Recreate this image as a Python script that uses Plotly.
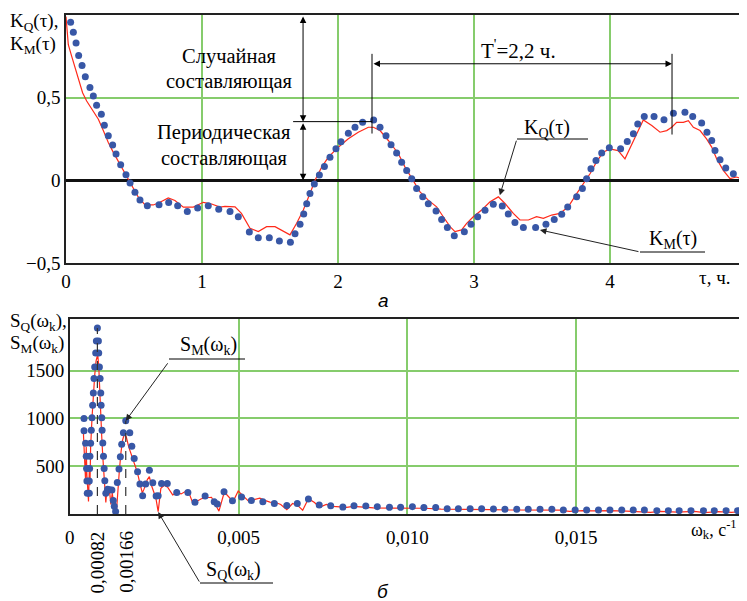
import plotly.graph_objects as go

# ---------------- data: top chart (correlation functions) ----------------
tau_m = [0.034, 0.054, 0.074, 0.093, 0.118, 0.142, 0.176, 0.201, 0.225, 0.260,
         0.282, 0.311, 0.343, 0.368, 0.402, 0.441, 0.471, 0.507, 0.544, 0.598,
         0.684, 0.755, 0.821, 0.892, 0.968, 1.046, 1.123, 1.206, 1.267, 1.348,
         1.414, 1.495, 1.569, 1.650, 1.684, 1.721, 1.748, 1.770, 1.794, 1.826,
         1.863, 1.900, 1.941, 1.985, 2.022, 2.076, 2.125, 2.181, 2.262, 2.309,
         2.353, 2.390, 2.431, 2.468, 2.505, 2.542, 2.578, 2.623, 2.664, 2.721,
         2.762, 2.804, 2.855, 2.929, 2.978, 3.027, 3.081, 3.142, 3.208, 3.252,
         3.301, 3.363, 3.453, 3.529, 3.590, 3.645, 3.689, 3.755, 3.797, 3.828,
         3.860, 3.897, 3.939, 3.995, 4.078, 4.127, 4.172, 4.204, 4.252, 4.324,
         4.397, 4.466, 4.551, 4.608, 4.674, 4.713, 4.748, 4.772, 4.809, 4.851,
         4.907, 4.980]
k_m = [0.956, 0.896, 0.831, 0.755, 0.695, 0.627, 0.562, 0.510, 0.454, 0.400,
       0.333, 0.269, 0.213, 0.159, 0.094, 0.034, -0.016, -0.072, -0.119, -0.153,
       -0.147, -0.134, -0.153, -0.189, -0.167, -0.153, -0.175, -0.189, -0.221, -0.313,
       -0.347, -0.347, -0.367, -0.375, -0.323, -0.265, -0.203, -0.141, -0.080, -0.022,
       0.032, 0.084, 0.140, 0.191, 0.233, 0.285, 0.321, 0.351, 0.365, 0.321,
       0.269, 0.215, 0.165, 0.110, 0.060, 0.010, -0.050, -0.100, -0.141, -0.185,
       -0.237, -0.285, -0.335, -0.311, -0.265, -0.221, -0.181, -0.145, -0.155, -0.203,
       -0.255, -0.285, -0.285, -0.265, -0.237, -0.205, -0.161, -0.100, -0.050, 0.010,
       0.070, 0.120, 0.165, 0.197, 0.191, 0.235, 0.281, 0.341, 0.386, 0.386,
       0.367, 0.406, 0.412, 0.386, 0.347, 0.291, 0.241, 0.181, 0.124, 0.074,
       0.040, 0.024]

tau_q = [0.000, 0.017, 0.042, 0.066, 0.090, 0.122, 0.152, 0.201, 0.238, 0.275,
         0.311, 0.348, 0.397, 0.446, 0.483, 0.532, 0.581, 0.642, 0.691, 0.752,
         0.801, 0.863, 0.936, 1.010, 1.071, 1.132, 1.169, 1.243, 1.290, 1.353,
         1.414, 1.475, 1.537, 1.598, 1.647, 1.696, 1.745, 1.794, 1.831, 1.880,
         1.929, 2.002, 2.076, 2.149, 2.223, 2.260, 2.309, 2.370, 2.444, 2.493,
         2.542, 2.603, 2.664, 2.725, 2.774, 2.824, 2.860, 2.909, 2.946, 2.995,
         3.056, 3.118, 3.179, 3.228, 3.289, 3.338, 3.400, 3.460, 3.510, 3.571,
         3.632, 3.693, 3.755, 3.804, 3.853, 3.900, 3.950, 3.998, 4.060, 4.110,
         4.159, 4.196, 4.245, 4.307, 4.368, 4.417, 4.454, 4.490, 4.539, 4.576,
         4.613, 4.662, 4.710, 4.748, 4.784, 4.833, 4.882, 4.930, 4.968, 5.000]
k_q = [0.99, 0.82, 0.75, 0.68, 0.61, 0.53, 0.48, 0.42, 0.37, 0.30,
       0.229, 0.169, 0.098, 0.028, -0.032, -0.102, -0.149, -0.149, -0.133, -0.107,
       -0.122, -0.162, -0.162, -0.133, -0.143, -0.162, -0.157, -0.160, -0.200, -0.290,
       -0.310, -0.280, -0.280, -0.310, -0.330, -0.260, -0.180, -0.080, 0.000, 0.080,
       0.140, 0.200, 0.251, 0.291, 0.321, 0.321, 0.301, 0.241, 0.161, 0.080,
       0.010, -0.070, -0.120, -0.160, -0.220, -0.280, -0.310, -0.300, -0.260, -0.220,
       -0.180, -0.130, -0.100, -0.140, -0.200, -0.240, -0.240, -0.220, -0.230, -0.210,
       -0.200, -0.160, -0.080, -0.020, 0.040, 0.110, 0.170, 0.190, 0.180, 0.130,
       0.210, 0.280, 0.365, 0.331, 0.291, 0.301, 0.321, 0.351, 0.351, 0.361,
       0.321, 0.301, 0.251, 0.201, 0.131, 0.060, 0.010, 0.020, 0.010, 0.010]

top_xticks = [0, 1, 2, 3, 4]
top_xtext = ["0", "1", "2", "3", "4"]
top_yticks = [-0.5, 0, 0.5]
top_ytext = ["\u22120,5", "0", "0,5"]

# annotation values (top)
split_level = 0.355          # periodic / random boundary
split_tau = 1.743
period_start = 2.25
period_end = 4.456

# ---------------- data: bottom chart (spectral densities) ----------------
w_m = [0.000424, 0.000424, 0.000470, 0.000490, 0.000500, 0.000510, 0.000520,
       0.000580, 0.000580, 0.000590, 0.000600, 0.000620, 0.000640, 0.000660, 0.000680,
       0.000700, 0.000720, 0.000740, 0.000770, 0.000790, 0.000820,
       0.000850, 0.000860, 0.000880, 0.000900, 0.000920, 0.000930, 0.000950, 0.000960,
       0.000980, 0.001000, 0.001020, 0.001040, 0.001070,
       0.001120, 0.001180, 0.001250, 0.001290, 0.001320, 0.001360,
       0.00141, 0.00146, 0.00150, 0.00154, 0.00159, 0.00166, 0.00178, 0.00184, 0.00191,
       0.00201, 0.00208, 0.00216, 0.00225, 0.00236, 0.00246, 0.00256, 0.00262, 0.00272,
       0.00289, 0.00317, 0.00350, 0.00371, 0.00401, 0.00428, 0.00437, 0.00457, 0.00482,
       0.00509, 0.00538, 0.00572, 0.00606, 0.00643, 0.00674, 0.00707, 0.00739, 0.00773,
       0.00809, 0.00842, 0.00877, 0.00911, 0.00947, 0.00980, 0.01015, 0.01049, 0.01084,
       0.01118, 0.01151, 0.01186, 0.01220, 0.01255, 0.01289, 0.01324, 0.01358, 0.01393,
       0.01428, 0.01462, 0.01497, 0.01531, 0.01566, 0.01600, 0.01635, 0.01669, 0.01702,
       0.01739, 0.01773, 0.01805, 0.01840, 0.01877, 0.01909, 0.01944, 0.01978]
s_m = [1000, 870, 740, 605, 477, 344, 216,
       216, 344, 477, 605, 740, 877, 1006, 1138,
       1266, 1417, 1538, 1684, 1809, 1945,
       1809, 1684, 1538, 1417, 1266, 1138, 1006, 877,
       744, 605, 477, 348, 216,
       260, 255, 250, 140, 80, 25,
       330, 470, 600, 730, 850, 975, 849, 710, 581,
       442, 313, 191, 313, 459, 327, 188, 190, 320,
       320, 226, 226, 122, 188, 129, 104, 233, 139,
       178, 142, 129, 111, 90, 111, 158, 94, 86,
       72, 86, 84, 77, 70, 70, 77, 67, 67,
       56, 56, 56, 55, 52, 49, 49, 49, 49,
       49, 42, 42, 42, 42, 42, 42, 42, 42,
       35, 35, 35, 35, 35, 35, 35, 35]

w_q = [0.000404, 0.000440, 0.000470, 0.000490, 0.000510, 0.000557, 0.000580, 0.000600,
       0.000620, 0.000660, 0.000700, 0.000740, 0.000780, 0.000829, 0.000860, 0.000890,
       0.000920, 0.000950, 0.000980, 0.001010, 0.001040, 0.001070, 0.001100, 0.001140,
       0.001180, 0.001220, 0.001260, 0.001300, 0.001340, 0.001380, 0.001420, 0.001470,
       0.001520, 0.001570, 0.001630, 0.001680, 0.001750, 0.001850, 0.001920, 0.002000,
       0.002080, 0.002150, 0.002200, 0.002300, 0.002360, 0.002420, 0.002500, 0.002560,
       0.002620, 0.002700, 0.002800, 0.002900, 0.003050, 0.003170, 0.003300, 0.003500,
       0.003650, 0.003800, 0.003900, 0.004050, 0.004200, 0.004300, 0.004420, 0.004580,
       0.004700, 0.004840, 0.004990, 0.005150, 0.005310, 0.005450, 0.005630, 0.005800,
       0.005930, 0.006100, 0.006250, 0.006430, 0.006600, 0.006750, 0.006900, 0.007070,
       0.007250, 0.007400, 0.007600, 0.007800, 0.008000, 0.008200, 0.008400, 0.008700,
       0.009000, 0.009500, 0.010000, 0.010500, 0.011000, 0.011500, 0.012000, 0.012500,
       0.013000, 0.013500, 0.014000, 0.014500, 0.014800, 0.015200, 0.015500, 0.016000,
       0.016500, 0.017000, 0.017200, 0.017500, 0.018000, 0.018500, 0.018800, 0.019200,
       0.019600, 0.020000]
s_q = [860, 600, 350, 700, 400, 130, 450, 300,
       700, 1000, 1250, 1450, 1600, 1670, 1550, 1250,
       1000, 800, 600, 400, 250, 120, 250, 200,
       240, 100, 220, 120, 20, 5, 250, 450,
       650, 780, 845, 800, 700, 600, 520, 440,
       320, 220, 260, 360, 390, 300, 220, 150,
       25, 270, 300, 280, 200, 220, 210, 250,
       110, 140, 160, 170, 175, 110, 30, 230,
       180, 130, 240, 180, 130, 150, 165, 140,
       125, 120, 100, 45, 110, 90, 40, 160,
       120, 70, 100, 80, 75, 70, 80, 70,
       65, 62, 65, 60, 50, 50, 45, 45,
       42, 40, 38, 40, 28, 35, 32, 35,
       30, 25, 18, 28, 20, 28, 15, 25,
       18, 28]

bot_xticks = [0, 0.005, 0.010, 0.015]
bot_xtext = ["0", "0,005", "0,010", "0,015"]
bot_yticks = [500, 1000, 1500]
bot_ytext = ["500", "1000", "1500"]
peak_freqs = [0.00082, 0.00166]
peak_labels = ["0,00082", "0,00166"]

# ---------------- styling ----------------
# The page body has an 8px default margin, so the figure is offset by 8px;
# all layout positions below are given in window pixels and converted.
OFF = 8
W, H = 747 - OFF, 601 - OFF
SERIF = "Liberation Serif, Times New Roman, DejaVu Serif, serif"
SANS = "Liberation Sans, Arial, sans-serif"
GRID = "#86cc6c"
DOT = "#3857a6"
RED = "#ff2a1a"


def px(x):
    return (x - OFF) / W


def py(y):
    return 1 - (y - OFF) / H


fig = go.Figure()
fig.add_trace(go.Scatter(x=tau_q, y=k_q, mode="lines", line=dict(color=RED, width=1.2),
                         xaxis="x", yaxis="y", hoverinfo="skip"))
fig.add_trace(go.Scatter(x=tau_m, y=k_m, mode="markers", marker=dict(color=DOT, size=7),
                         xaxis="x", yaxis="y", hoverinfo="skip"))
fig.add_trace(go.Scatter(x=w_q, y=s_q, mode="lines", line=dict(color=RED, width=1.2),
                         xaxis="x2", yaxis="y2", hoverinfo="skip"))
fig.add_trace(go.Scatter(x=w_m, y=s_m, mode="markers", marker=dict(color=DOT, size=7),
                         xaxis="x2", yaxis="y2", hoverinfo="skip"))

axis_common = dict(showgrid=True, gridcolor=GRID, gridwidth=1.5, showline=True,
                   linecolor="#222", linewidth=1.5, mirror=True,
                   automargin=False,
                   tickfont=dict(family=SERIF, size=19, color="black"))

fig.update_layout(
    width=W, height=H, margin=dict(l=0, r=0, t=0, b=0, autoexpand=False),
    paper_bgcolor="white", plot_bgcolor="white", showlegend=False,
    font=dict(family=SERIF, size=19, color="black"),
    xaxis=dict(domain=[px(66), px(746)], range=[0, 5], tickvals=top_xticks,
               ticktext=top_xtext, zeroline=False, anchor="y", ticks="", **axis_common),
    yaxis=dict(domain=[py(263), py(15)], range=[-0.5, 1.0], tickvals=top_yticks,
               ticktext=top_ytext, zeroline=True, zerolinecolor="#111",
               zerolinewidth=2.5, anchor="x", ticks="", **axis_common),
    xaxis2=dict(domain=[px(69.7), px(745)], range=[0, 0.02], tickvals=bot_xticks,
                ticktext=bot_xtext, zeroline=False, anchor="y2", ticks="outside",
                ticklen=5, tickcolor="rgba(0,0,0,0)", **axis_common),
    yaxis2=dict(domain=[py(514), py(319)], range=[0, 2040], tickvals=bot_yticks,
                ticktext=bot_ytext, zeroline=False, anchor="x2", ticks="", **axis_common),
)

ann = []
shapes = []


def label(x, y, text, xanchor="center", size=19, italic=False, family=SERIF, angle=0):
    ann.append(dict(x=px(x), y=py(y), xref="paper", yref="paper", text=text,
                    showarrow=False, xanchor=xanchor, yanchor="middle", textangle=angle,
                    font=dict(family=family, size=size, color="black",
                              style="italic" if italic else "normal")))


# axis captions
label(8, 22, "K<sub>Q</sub>(\u03c4),", xanchor="left")
label(8, 45, "K<sub>M</sub>(\u03c4)", xanchor="left")
label(714, 277, "\u03c4, \u0447.")
label(8, 322, "S<sub>Q</sub>(\u03c9<sub>k</sub>),", xanchor="left")
label(8, 344, "S<sub>M</sub>(\u03c9<sub>k</sub>)", xanchor="left")
label(714, 529, "\u03c9<sub>k</sub>, \u0441<sup>-1</sup>", xanchor="center", size=18)
label(383, 300, "\u0430", italic=True, family=SANS)
label(383, 591, "\u0431", italic=True, family=SANS)

# texts in top chart
label(229, 57, "\u0421\u043b\u0443\u0447\u0430\u0439\u043d\u0430\u044f", size=20.5)
label(229, 81, "\u0441\u043e\u0441\u0442\u0430\u0432\u043b\u044f\u044e\u0449\u0430\u044f", size=20.5)
label(224, 133, "\u041f\u0435\u0440\u0438\u043e\u0434\u0438\u0447\u0435\u0441\u043a\u0430\u044f", size=20.5)
label(224, 159, "\u0441\u043e\u0441\u0442\u0430\u0432\u043b\u044f\u044e\u0449\u0430\u044f", size=20.5)
label(518, 50, "T<sup>'</sup>=2,2 \u0447.", size=21)
label(547, 128, "K<sub>Q</sub>(\u03c4)", size=20)
label(673, 239, "K<sub>M</sub>(\u03c4)", size=20)
label(208, 345, "S<sub>M</sub>(\u03c9<sub>k</sub>)", size=20)
label(233, 570, "S<sub>Q</sub>(\u03c9<sub>k</sub>)", size=20)

# rotated frequency labels
for f, t in zip(peak_freqs, peak_labels):
    ann.append(dict(x=f, y=py(562), xref="x2", yref="paper", text=t, showarrow=False,
                    textangle=-90, xanchor="center", yanchor="middle",
                    font=dict(family=SERIF, size=19, color="black")))


def darrow(x0, y0, x1, y1, xr="x", yr="y"):
    ann.append(dict(x=x1, y=y1, ax=x0, ay=y0, xref=xr, yref=yr, axref=xr, ayref=yr,
                    text="", showarrow=True, arrowside="end+start", arrowhead=2,
                    startarrowhead=2, arrowsize=1.3, startarrowsize=1.3,
                    arrowwidth=1, arrowcolor="black"))


def leader(x, y, dx, dy, xr, yr):
    ann.append(dict(x=x, y=y, ax=dx, ay=dy, xref=xr, yref=yr, axref="pixel",
                    ayref="pixel", text="", showarrow=True, arrowhead=2,
                    arrowsize=1.3, arrowwidth=1, arrowcolor="#222"))


# vertical double arrows (random / periodic components)
darrow(split_tau, 1.0, split_tau, split_level)
darrow(split_tau, split_level, split_tau, 0.0)
# period double arrow
darrow(period_start, 0.705, period_end, 0.705)

# leaders
leader(3.19, -0.09, 17, -56, "x", "y")
leader(3.485, -0.30, 100, 22, "x", "y")
leader(peak_freqs[1], 975, 43, -59, "x2", "y2")
leader(0.00262, 20, 42, 71, "x2", "y2")


def seg(x0, y0, x1, y1, xr="x", yr="y", dash="solid", w=1, color="black"):
    shapes.append(dict(type="line", x0=x0, y0=y0, x1=x1, y1=y1, xref=xr, yref=yr,
                       line=dict(color=color, width=w, dash=dash)))


seg(1.67, split_level, period_start, split_level)
seg(period_start, 0.283, period_start, 0.765)
seg(period_end, 0.277, period_end, 0.765)

# underlines of the curve labels (paper)
seg(px(517), py(139), px(588), py(139), "paper", "paper")
seg(px(640), py(252), px(705), py(252), "paper", "paper")
seg(px(169), py(359), px(245), py(359), "paper", "paper")
seg(px(200), py(583), px(273), py(583), "paper", "paper")

# dashed vertical lines at spectral peaks
for f in peak_freqs:
    near = [s for w, s in zip(w_m, s_m) if abs(w - f) < 0.00003]
    seg(f, 0, f, max(near), "x2", "y2", dash="dash", w=1.2, color="#333")

fig.update_layout(annotations=ann, shapes=shapes)
fig.write_html("out.html")
